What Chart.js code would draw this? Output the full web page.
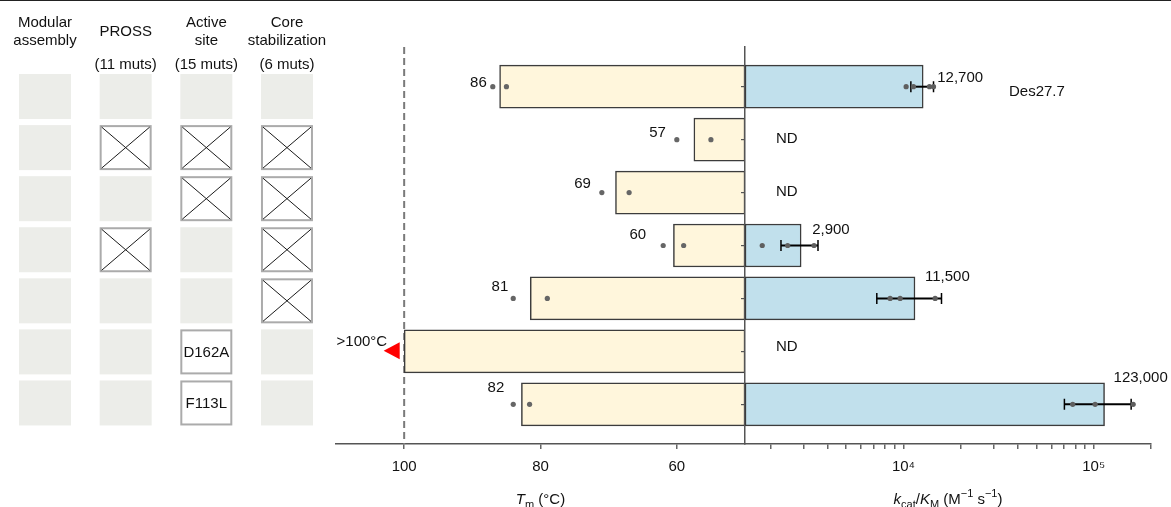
<!DOCTYPE html>
<html>
<head>
<meta charset="utf-8">
<script src="https://cdn.jsdelivr.net/npm/chart.js@4.4.0/dist/chart.umd.min.js"></script>
<style>
  html, body { margin: 0; padding: 0; background: #ffffff; }
  #wrap { position: relative; width: 1171px; height: 507px; overflow: hidden; }
  #wrap canvas { position: absolute; top: 0; }
  #rule { position: absolute; left: 0; top: 0; width: 1171px; height: 1px; background: #222; }
</style>
</head>
<body>
<div id="wrap">
  <canvas id="grid" width="335" height="507" style="left:0px"></canvas>
  <canvas id="tm" width="430" height="507" style="left:330px"></canvas>
  <canvas id="kc" width="471" height="507" style="left:700px"></canvas>
  <div id="rule"></div>
</div>
<script>
// ---------------- DATA ----------------
const designs = ['Des27.7', 'Des27.7 v1', 'Des27.7 v2', 'Des27.7 v3', 'Des27.7 v4', 'Des27.7 D162A', 'Des27.7 F113L'];
const modules = ['Modular\nassembly', 'PROSS', 'Active\nsite', 'Core\nstabilization'];
const moduleMuts = ['', '(11 muts)', '(15 muts)', '(6 muts)'];
const modularCells = ['on', 'on', 'on', 'on', 'on', 'on', 'on'];
const prossCells   = ['on', 'off', 'on', 'off', 'on', 'on', 'on'];
const activeCells  = ['on', 'off', 'off', 'on', 'on', 'D162A', 'F113L'];
const coreCells    = ['on', 'off', 'off', 'off', 'off', 'on', 'on'];

const tmMean   = [86, 57.5, 69, 60.5, 81.5, 100, 82.8];
const tmLabels = ['86', '57', '69', '60', '81', '>100°C', '82'];
const tmReps   = [[87, 85], [60, 55], [71, 67], [62, 59], [84, 79], [], [84, 81.6]];
const tmTicks  = [60, 80, 100];
const tmRange  = [50, 110];
const tmLimit  = 100;

const kcatMean    = [12700, null, null, 2900, 11500, null, 114000];
const kcatLabels  = ['12,700', 'ND', 'ND', '2,900', '11,500', 'ND', '123,000'];
const kcatReps    = [[10330, 11290, 13700, 14390], [], [], [1811, 2463, 3388], [8511, 9608, 14680], [], [77550, 101700, 161200]];
const kcatErrLow  = [10940, null, null, 2272, 7244, null, 70130];
const kcatErrHigh = [14390, null, null, 3556, 15850, null, 157300];
const kcatTicks   = [2000, 3000, 4000, 5000, 6000, 7000, 8000, 9000, 10000,
                     20000, 30000, 40000, 50000, 60000, 70000, 80000, 90000, 100000, 200000];
const kcatTickLabels = { 10000: '10⁴', 100000: '10⁵' };
const kcatRange   = [1470, 200000];

// ---------------- STYLE ----------------
const FONT = "'Liberation Sans', Arial, Helvetica, sans-serif";
const TEXT = '#111111';
Chart.defaults.font.family = FONT;
Chart.defaults.font.size = 15;
Chart.defaults.color = TEXT;

const ROW_RANGE = [-0.75, 6.75];
const CELL_W = 52, CELL_H = 45;
// annotation offsets (px) relative to the data anchors
const TM_LABEL_OFFSET   = [[-6, -4], [-11, -7], [-11, -9], [-17, -11], [-5, -12], [-17, -10], [-9, -16]];
const KCAT_LABEL_OFFSET = [[14, -9], [31, -1], [31, -1], [11, -16], [10, -22], [31, -5], [9, -26]];

function drawRich(ctx, segs, cx, baseline, size) {
  const small = Math.round(size * 0.7);
  const fontFor = s => `${s.it ? 'italic ' : ''}${(s.sub || s.sup) ? small : size}px ${FONT}`;
  let w = 0;
  segs.forEach(s => { ctx.font = fontFor(s); s.w = ctx.measureText(s.t).width; w += s.w; });
  let x = cx - w / 2;
  ctx.textAlign = 'left';
  ctx.textBaseline = 'alphabetic';
  ctx.fillStyle = TEXT;
  segs.forEach(s => {
    ctx.font = fontFor(s);
    ctx.fillText(s.t, x, baseline + (s.sub ? 4 : s.sup ? -7 : 0));
    x += s.w;
  });
}

// ---------------- GRID OF MODULES ----------------
const gridCols = [modularCells, prossCells, activeCells, coreCells];
const gridPlugin = {
  id: 'cells',
  afterDatasetsDraw(chart) {
    const { ctx, scales: { x, y } } = chart;
    ctx.save();
    gridCols.forEach((cells, c) => {
      const cx = x.getPixelForValue(c);
      cells.forEach((state, r) => {
        const cy = y.getPixelForValue(r);
        const L = cx - CELL_W / 2, T = cy - CELL_H / 2;
        if (state === 'on') {
          ctx.fillStyle = '#ECEDE9';
          ctx.fillRect(L, T, CELL_W, CELL_H);
        } else {
          ctx.fillStyle = '#ffffff';
          ctx.fillRect(L, T, CELL_W, CELL_H);
          ctx.strokeStyle = '#ababab';
          ctx.lineWidth = 2;
          ctx.strokeRect(L + 1, T + 1, CELL_W - 2, CELL_H - 2);
          if (state === 'off') {
            ctx.strokeStyle = '#1a1a1a';
            ctx.lineWidth = 1;
            ctx.beginPath();
            ctx.moveTo(L + 2, T + 2); ctx.lineTo(L + CELL_W - 2, T + CELL_H - 2);
            ctx.moveTo(L + CELL_W - 2, T + 2); ctx.lineTo(L + 2, T + CELL_H - 2);
            ctx.stroke();
          } else {
            ctx.fillStyle = TEXT;
            ctx.font = `15px ${FONT}`;
            ctx.textAlign = 'center';
            ctx.textBaseline = 'middle';
            ctx.fillText(state, cx, cy + 1);
          }
        }
      });
      // headers
      ctx.fillStyle = TEXT;
      ctx.font = `15px ${FONT}`;
      ctx.textAlign = 'center';
      ctx.textBaseline = 'alphabetic';
      const lines = modules[c].split('\n');
      if (lines.length === 2) {
        ctx.fillText(lines[0], cx, 27);
        ctx.fillText(lines[1], cx, 45);
      } else {
        ctx.fillText(lines[0], cx, 36);
      }
      if (moduleMuts[c]) ctx.fillText(moduleMuts[c], cx, 69);
    });
    ctx.restore();
  }
};

new Chart(document.getElementById('grid'), {
  type: 'scatter',
  data: {
    datasets: [{
      data: gridCols.flatMap((cells, c) => cells.map((s, r) => ({ x: c, y: r }))),
      pointRadius: 0
    }]
  },
  options: {
    responsive: false, animation: false, devicePixelRatio: 1,
    layout: { padding: { left: 4.67, right: 7.7, top: 71, bottom: 78.5 } },
    plugins: { legend: { display: false }, tooltip: { enabled: false } },
    scales: {
      x: { type: 'linear', min: -0.5, max: 3.5, display: false, offset: false },
      y: { type: 'linear', reverse: true, min: -0.5, max: 6.5, display: false, offset: false }
    }
  },
  plugins: [gridPlugin]
});

// ---------------- Tm PANEL ----------------
const tmPlugin = {
  id: 'tmDeco',
  beforeDatasetsDraw(chart) {
    const { ctx, chartArea, scales: { x } } = chart;
    const px = x.getPixelForValue(tmLimit);
    ctx.save();
    ctx.strokeStyle = '#7a7a7a';
    ctx.lineWidth = 2;
    ctx.setLineDash([7, 4]);
    ctx.beginPath();
    ctx.moveTo(px, chartArea.top);
    ctx.lineTo(px, chartArea.bottom);
    ctx.stroke();
    ctx.restore();
  },
  afterDatasetsDraw(chart) {
    const { ctx, scales: { x, y } } = chart;
    ctx.save();
    tmLabels.forEach((lab, i) => {
      const cy = y.getPixelForValue(i);
      const reps = tmReps[i];
      const anchor = reps.length ? Math.min(...reps.map(v => x.getPixelForValue(v))) : x.getPixelForValue(tmMean[i]);
      const [dx, dy] = TM_LABEL_OFFSET[i];
      ctx.fillStyle = TEXT;
      ctx.font = `15px ${FONT}`;
      ctx.textAlign = 'right';
      ctx.textBaseline = 'middle';
      ctx.fillText(lab, anchor + dx, cy + dy);
      if (lab.startsWith('>')) {
        ctx.fillStyle = '#ff0000';
        ctx.beginPath();
        ctx.moveTo(anchor - 20.5, cy - 0.5);
        ctx.lineTo(anchor - 4.5, cy - 9);
        ctx.lineTo(anchor - 4.5, cy + 8);
        ctx.closePath();
        ctx.fill();
      }
    });
    ctx.restore();
  },
  afterDraw(chart) {
    const { ctx, chartArea } = chart;
    ctx.save();
    drawRich(ctx, [{ t: 'T', it: true }, { t: 'm', sub: true }, { t: ' (°C)' }],
      (chartArea.left + chartArea.right) / 2, 503.5, 15);
    ctx.restore();
  }
};

new Chart(document.getElementById('tm'), {
  type: 'bar',
  data: {
    datasets: [
      {
        type: 'scatter', order: 0,
        data: tmReps.flatMap((r, i) => r.map(v => ({ x: v, y: i }))),
        pointRadius: 2.6, pointBackgroundColor: '#666666', pointBorderWidth: 0
      },
      {
        type: 'bar', order: 1, indexAxis: 'y',
        data: tmMean.map((v, i) => ({ x: [tmRange[0], v], y: i })),
        backgroundColor: '#FFF6DC', borderColor: '#3c3c3c', borderWidth: 1.5,
        borderSkipped: false, barThickness: 43
      }
    ]
  },
  options: {
    indexAxis: 'y',
    responsive: false, animation: false, devicePixelRatio: 1,
    layout: { padding: { left: 6, right: 15, top: 47, bottom: 0 } },
    plugins: { legend: { display: false }, tooltip: { enabled: false } },
    scales: {
      x: {
        type: 'linear', position: 'bottom', reverse: true, min: tmRange[0], max: tmRange[1],
        offset: false, beginAtZero: false,
        afterBuildTicks: s => { s.ticks = tmTicks.map(v => ({ value: v })); },
        afterFit: s => { s.height = 63; },
        ticks: { padding: 9, color: TEXT, font: { size: 15 }, maxRotation: 0, autoSkip: false, callback: v => String(v) },
        grid: { offset: false, drawOnChartArea: false, drawTicks: true, tickLength: 5, color: '#666666', lineWidth: 1.5 },
        border: { display: true, color: '#555555', width: 1.5 }
      },
      y: { type: 'linear', reverse: true, min: ROW_RANGE[0], max: ROW_RANGE[1], display: false,
           offset: false, grid: { offset: false } }
    }
  },
  plugins: [tmPlugin]
});

// ---------------- kcat/KM PANEL ----------------
const kcPlugin = {
  id: 'kcDeco',
  afterDatasetDraw(chart, args) {
    if (args.meta.type !== 'bar') return;
    const { ctx, scales: { x, y } } = chart;
    ctx.save();
    ctx.strokeStyle = '#000000';
    kcatErrLow.forEach((lo, i) => {
      const hi = kcatErrHigh[i];
      if (lo == null || hi == null) return;
      const cy = y.getPixelForValue(i);
      const x1 = x.getPixelForValue(lo), x2 = x.getPixelForValue(hi);
      ctx.lineWidth = 2;
      ctx.beginPath();
      ctx.moveTo(x1, cy); ctx.lineTo(x2, cy);
      ctx.stroke();
      ctx.lineWidth = 1.5;
      ctx.beginPath();
      ctx.moveTo(x1, cy - 5.5); ctx.lineTo(x1, cy + 5.5);
      ctx.moveTo(x2, cy - 5.5); ctx.lineTo(x2, cy + 5.5);
      ctx.stroke();
    });
    ctx.restore();
  },
  afterDraw(chart) {
    const { ctx, chartArea, scales: { x, y } } = chart;
    ctx.save();
    ctx.fillStyle = TEXT;
    ctx.font = `15px ${FONT}`;
    ctx.textAlign = 'left';
    ctx.textBaseline = 'middle';
    kcatLabels.forEach((lab, i) => {
      const cy = y.getPixelForValue(i);
      const [dx, dy] = KCAT_LABEL_OFFSET[i];
      const anchor = kcatMean[i] == null ? chartArea.left : x.getPixelForValue(kcatMean[i]);
      ctx.fillText(lab, anchor + dx, cy + dy);
    });
    ctx.fillText(designs[0], chartArea.left + 264, y.getPixelForValue(0) + 5);
    drawRich(ctx, [
      { t: 'k', it: true }, { t: 'cat', sub: true }, { t: '/' }, { t: 'K', it: true }, { t: 'M', sub: true },
      { t: ' (M' }, { t: '−1', sup: true }, { t: ' s' }, { t: '−1', sup: true }, { t: ')' }
    ], (chartArea.left + chartArea.right) / 2, 503.5, 15);
    ctx.restore();
  }
};

new Chart(document.getElementById('kc'), {
  type: 'bar',
  data: {
    datasets: [
      {
        type: 'scatter', order: 0,
        data: kcatReps.flatMap((r, i) => r.map(v => ({ x: v, y: i }))),
        pointRadius: 2.6, pointBackgroundColor: '#5f5f5f', pointBorderWidth: 0
      },
      {
        type: 'bar', order: 1, indexAxis: 'y',
        data: kcatMean.map((v, i) => (v == null ? null : { x: [kcatRange[0], v], y: i })).filter(d => d),
        backgroundColor: '#C1E0EC', borderColor: '#3c3c3c', borderWidth: 1.5,
        borderSkipped: false, barThickness: 43
      }
    ]
  },
  options: {
    indexAxis: 'y',
    responsive: false, animation: false, devicePixelRatio: 1,
    layout: { padding: { left: 45, right: 20, top: 47, bottom: 0 } },
    plugins: { legend: { display: false }, tooltip: { enabled: false } },
    scales: {
      x: {
        type: 'logarithmic', position: 'bottom', min: kcatRange[0], max: kcatRange[1], offset: false,
        afterBuildTicks: s => { s.ticks = kcatTicks.map(v => ({ value: v })); },
        afterFit: s => { s.height = 63; },
        ticks: { padding: 9, color: TEXT, font: { size: 15 }, maxRotation: 0, autoSkip: false,
                 callback: v => kcatTickLabels[v] || '' },
        grid: { offset: false, drawOnChartArea: false, drawTicks: true, tickLength: 5, color: '#666666', lineWidth: 1.5 },
        border: { display: true, color: '#555555', width: 1.5 }
      },
      y: {
        type: 'linear', position: 'left', reverse: true, min: ROW_RANGE[0], max: ROW_RANGE[1], offset: false,
        afterBuildTicks: s => { s.ticks = designs.map((_, i) => ({ value: i })); },
        afterFit: s => { s.width = 0; },
        ticks: { display: false },
        grid: { offset: false, drawOnChartArea: false, drawTicks: true, tickLength: 4, color: '#555555', lineWidth: 1.2 },
        border: { display: true, color: '#555555', width: 1.5 }
      }
    }
  },
  plugins: [kcPlugin]
});
</script>
</body>
</html>
